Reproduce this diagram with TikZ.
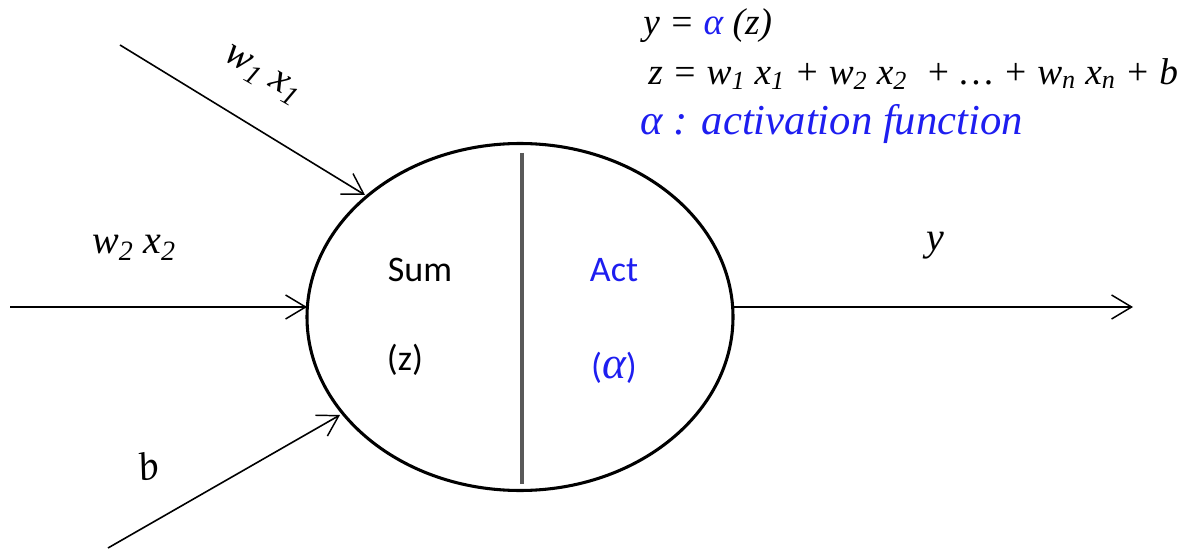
\documentclass[tikz,border=0pt]{standalone}
\usepackage{fontspec}
\setmainfont{Liberation Serif}
\newfontfamily\calib{Carlito}
\usetikzlibrary{arrows.meta,shapes.geometric}
\definecolor{actblue}{RGB}{30,30,240}
\tikzset{
  conn/.style={line width=1.2pt,-{Straight Barb[length=15pt,width=18pt,line width=1.1pt]}},
  lab/.style={font=\fontsize{30}{32}\selectfont\itshape, inner sep=0pt},
  inner/.style={font=\calib\fontsize{27}{30}\selectfont, inner sep=0pt},
  eq/.style={font=\fontsize{28}{30}\selectfont\itshape, inner sep=0pt, anchor=west},
}
\begin{document}
\begin{tikzpicture}[x=0.75pt,y=-0.75pt]
\useasboundingbox (0,0) rectangle (1188,552);
\node[draw, line width=2.3pt, ellipse, minimum width=426*0.75pt, minimum height=347*0.75pt, inner sep=0pt] (neuron) at (520,317) {};
\draw[line width=2.3pt, gray!70!black] (522,153) -- (522,484);
\coordinate (s1) at (120,45);
\coordinate (s2) at (10,307);
\coordinate (s3) at (108,548);
\coordinate (out) at (1133,307);
\coordinate (t1) at (365,195);
\coordinate (t2) at (307,307);
\coordinate (t3) at (340,415);
\coordinate (o1) at (733,307);
\draw[conn] (s1) -- (t1);
\draw[conn] (s2) -- (t2);
\draw[conn] (s3) -- (t3);
\draw[conn] (o1) -- (out);
\node[lab, rotate=-30] (l1) at (262,76) {w\textsubscript{1} x\textsubscript{1}};
\node[lab] (l2) at (134,248) {w\textsubscript{2} x\textsubscript{2}};
\node[lab, rotate=12] (l3) at (148,466) {b};
\node[lab] (l4) at (935,246) {y};
\node[inner] (sum) at (420,270) {Sum};
\node[inner] (z) at (405,360) {(z)};
\node[inner, text=actblue] (act) at (614,270) {Act};
\node[inner, text=actblue] (alpha) at (614,368) {({\fontspec{Liberation Serif}\itshape\fontsize{34}{36}\selectfont α})};
\node[eq] (e1) at (643,26) {y = \textcolor{actblue}{α} (z)};
\node[eq] (e2) at (648,74) {z = w\textsubscript{1} x\textsubscript{1} + w\textsubscript{2} x\textsubscript{2}\ \ + … + w\textsubscript{n} x\textsubscript{n} + b};
\node[eq, text=actblue, font=\fontsize{32}{34}\selectfont\itshape] (e3) at (640,124) {α : activation function};
\end{tikzpicture}
\end{document}
